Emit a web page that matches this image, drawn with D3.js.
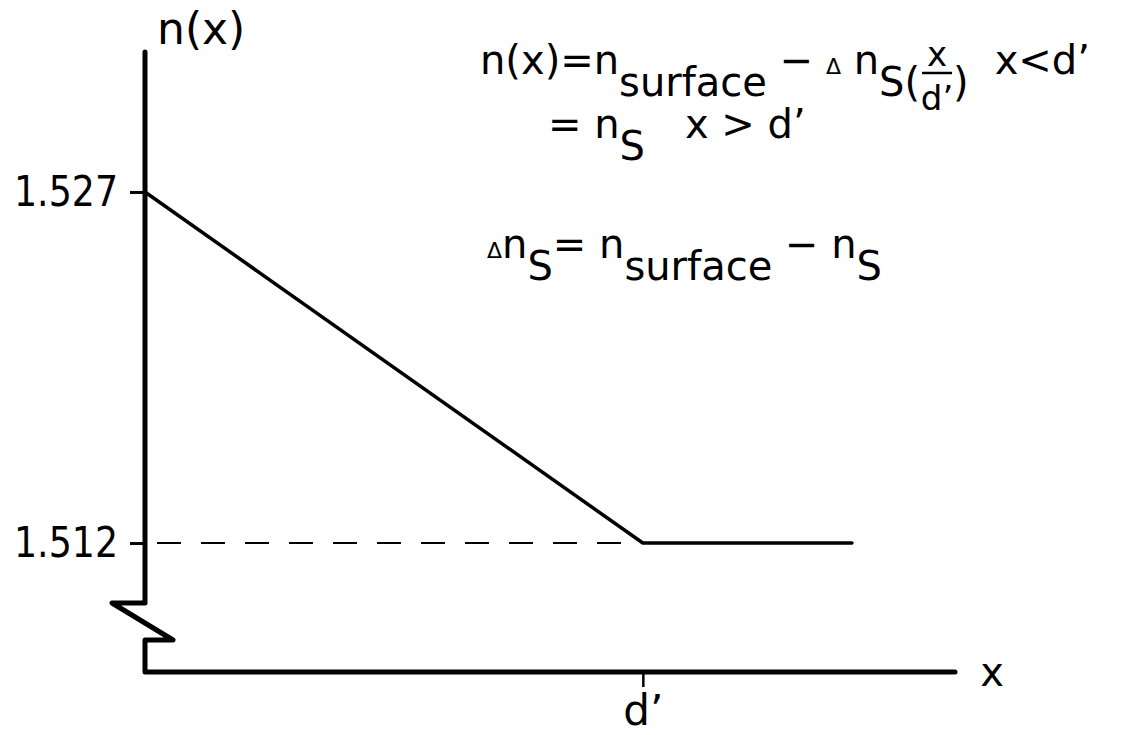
<!DOCTYPE html>
<html>
<head>
<meta charset="utf-8">
<script src="https://cdn.jsdelivr.net/npm/d3@7"></script>
<style>
  html, body { margin: 0; padding: 0; background: #fff; }
  svg { display: block; }
  text { font-family: "DejaVu Sans", "Noto Sans", sans-serif; fill: #000; }
</style>
</head>
<body>
<svg id="chart" width="1122" height="735"></svg>
<script>
// Refractive-index profile of a graded surface layer
const yTickValues = [1.527, 1.512];            // n at surface / substrate
const xTickValues = [1];                       // depth d' (normalised)
const xTickLabels = ["d\u2019"];
const profileDepth = [0, 1, 1.42];             // x / d'
const profileIndex = [1.527, 1.512, 1.512];    // n(x)

const svg = d3.select("#chart");
const FONT = 40;
const SUB = 22;

const x = d3.scaleLinear().domain([0, 1.627]).range([145, 955]);
const y = d3.scaleLinear().domain([1.50649, 1.53298]).range([672, 52]);

const x0 = x(0), yBase = y.range()[0], yTop = y.range()[1];

// y axis with a break near the bottom, joined to the x axis
const breakTop = yBase - 69, breakBot = yBase - 32;
svg.append("path")
  .attr("d", d3.line()([
    [x0, yTop], [x0, breakTop], [x0 - 33, breakTop],
    [x0 + 28, breakBot], [x0, breakBot], [x0, yBase], [x(1.627), yBase]
  ]))
  .attr("fill", "none").attr("stroke", "#000")
  .attr("stroke-width", 5).attr("stroke-linejoin", "round").attr("stroke-linecap", "round");

// y ticks
const yAxis = d3.axisLeft(y).tickValues(yTickValues).tickSize(15).tickPadding(12)
  .tickFormat(d3.format(".3f"));
const gy = svg.append("g").attr("transform", `translate(${x0},0)`).call(yAxis);
gy.select(".domain").remove();
gy.selectAll(".tick line").attr("stroke", "#000").attr("stroke-width", 3);
gy.selectAll(".tick text").attr("font-size", 42).attr("font-family", "DejaVu Sans, sans-serif")
  .attr("fill", "#000").attr("textLength", 104).attr("lengthAdjust", "spacingAndGlyphs");

// x ticks
const xAxis = d3.axisBottom(x).tickValues(xTickValues).tickSize(15).tickPadding(8)
  .tickFormat((d, i) => xTickLabels[i]);
const gx = svg.append("g").attr("transform", `translate(0,${yBase})`).call(xAxis);
gx.select(".domain").remove();
gx.selectAll(".tick line").attr("stroke", "#000").attr("stroke-width", 2.5);
gx.selectAll(".tick text").attr("font-size", 42).attr("font-family", "DejaVu Sans, sans-serif")
  .attr("fill", "#000");

// dashed reference at substrate index
svg.append("line")
  .attr("x1", x0 + 12).attr("x2", x(profileDepth[1]))
  .attr("y1", y(profileIndex[1])).attr("y2", y(profileIndex[1]))
  .attr("stroke", "#000").attr("stroke-width", 2)
  .attr("stroke-dasharray", "24,20");

// index profile
const pts = profileDepth.map((d, i) => [x(d), y(profileIndex[i])]);
svg.append("path")
  .attr("d", d3.line()(pts))
  .attr("fill", "none").attr("stroke", "#000").attr("stroke-width", 3.5)
  .attr("stroke-linejoin", "round").attr("stroke-linecap", "round");

// axis titles
svg.append("text").attr("x", 157).attr("y", 44).attr("font-size", 44).text("n(x)");
svg.append("text").attr("x", 992).attr("y", 686).attr("font-size", 40)
  .attr("text-anchor", "middle").text("x");

// rich text helper: parts = [{t, dy, size}]
function rich(px, py, parts) {
  const t = svg.append("text").attr("x", px).attr("y", py).attr("font-size", FONT);
  let shift = 0;
  parts.forEach(p => {
    const target = p.dy || 0;
    const s = t.append("tspan").text(p.t).attr("dy", target - shift);
    if (p.size) s.attr("font-size", p.size);
    shift = target;
  });
  return t;
}

// line 1: n(x) = n_surface − Δn_S (x/d')  x<d'
const L1X = 480, L1Y = 74;
const l1 = rich(L1X, L1Y, [
  { t: "n(x)=n" }, { t: "surface", dy: SUB }, { t: " \u2212 ", dy: 0 },
  { t: "\u0394", size: 22 }, { t: " n" }, { t: "S(", dy: SUB }
]);
const end1 = L1X + l1.node().getComputedTextLength();
const fx = end1 + 17;
svg.append("text").attr("x", fx).attr("y", L1Y - 8).attr("font-size", 34)
  .attr("text-anchor", "middle").text("x");
svg.append("line").attr("x1", fx - 15).attr("x2", fx + 15).attr("y1", L1Y - 1).attr("y2", L1Y - 1)
  .attr("stroke", "#000").attr("stroke-width", 2.5);
svg.append("text").attr("x", fx).attr("y", L1Y + 36).attr("font-size", 34)
  .attr("text-anchor", "middle").text("d\u2019");
const rp = svg.append("text").attr("x", fx + 16).attr("y", L1Y + SUB).attr("font-size", FONT).text(")");
const rpEnd = fx + 16 + rp.node().getComputedTextLength();
svg.append("text").attr("x", rpEnd + 26).attr("y", L1Y).attr("font-size", FONT).text("x<d\u2019");

// line 2: = n_S    x > d'
const l2 = rich(548, 138, [{ t: "= n" }, { t: "S", dy: SUB }]);
const end2 = 548 + l2.node().getComputedTextLength();
svg.append("text").attr("x", end2 + 40).attr("y", 138).attr("font-size", FONT).text("x > d\u2019");

// line 3: Δn_S = n_surface − n_S
rich(487, 258, [
  { t: "\u0394", size: 22 }, { t: "n" }, { t: "S", dy: SUB }, { t: "= n", dy: 0 },
  { t: "surface", dy: SUB }, { t: " \u2212 n", dy: 0 }, { t: "S", dy: SUB }
]);
</script>
</body>
</html>
